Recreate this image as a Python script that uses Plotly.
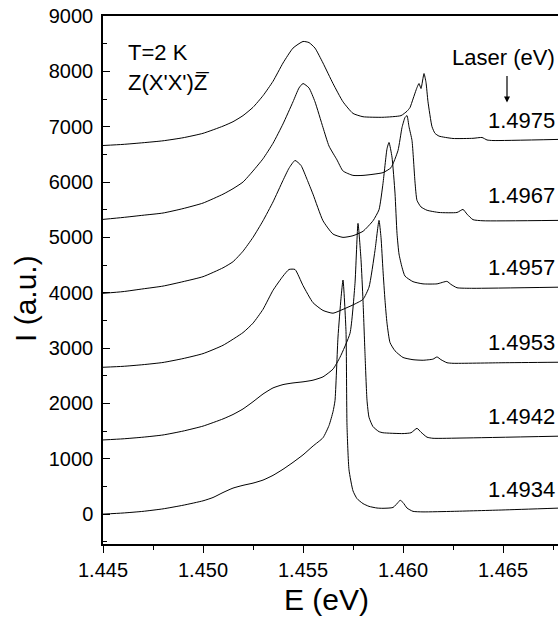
import plotly.graph_objects as go

# ---- data (E in eV, I in a.u., vertical offsets included as plotted) ----
laser_labels = ["1.4975", "1.4967", "1.4957", "1.4953", "1.4942", "1.4934"]

e_1934 = [1.445, 1.446, 1.447, 1.448, 1.449, 1.450, 1.4505, 1.451, 1.4515, 1.452, 1.4525, 1.453,
          1.4535, 1.454, 1.4545, 1.455, 1.4555, 1.456, 1.4563, 1.4565, 1.4566, 1.45675, 1.4569, 1.457,
          1.45715, 1.4572, 1.4573, 1.4575, 1.4577, 1.458, 1.4583, 1.4587, 1.459, 1.4595, 1.4598, 1.45985,
          1.46, 1.4602, 1.4605, 1.461, 1.4625, 1.465, 1.46775]
i_1934 = [0, 20, 50, 95, 160, 240, 300, 390, 470, 520, 560, 615,
          700, 810, 935, 1070, 1230, 1380, 1600, 1850, 2050, 3200, 3900, 4230,
          3300, 1600, 800, 420, 280, 190, 140, 110, 105, 120, 230, 253,
          210, 110, 50, 40, 50, 75, 108]

e_1942 = [1.445, 1.446, 1.447, 1.448, 1.449, 1.450, 1.451, 1.4515, 1.452, 1.4525, 1.453, 1.4535,
          1.454, 1.4545, 1.455, 1.4555, 1.456, 1.4565, 1.45685, 1.45735, 1.4576, 1.45775, 1.4579, 1.458,
          1.4581, 1.4582, 1.4583, 1.4585, 1.4588, 1.459, 1.460, 1.4604, 1.4607, 1.4609, 1.4612, 1.4615,
          1.463, 1.46775]
i_1942 = [1340, 1360, 1390, 1430, 1500, 1590, 1720, 1800, 1900, 2030, 2170, 2280,
          2340, 2370, 2390, 2420, 2480, 2620, 2834, 3267, 4170, 5253, 4600, 3863,
          2900, 2058, 1750, 1580, 1490, 1470, 1455, 1470, 1550, 1480, 1390, 1370,
          1375, 1408]

e_1953 = [1.445, 1.446, 1.447, 1.448, 1.449, 1.450, 1.451, 1.452, 1.4525, 1.453, 1.4535, 1.454,
          1.4543, 1.4546, 1.455, 1.4555, 1.456, 1.4565, 1.457, 1.4575, 1.458, 1.4583, 1.4586, 1.4588,
          1.4589, 1.459, 1.4591, 1.4592, 1.45935, 1.4596, 1.460, 1.4605, 1.461, 1.4615, 1.4617, 1.4619,
          1.4622, 1.4625, 1.465, 1.46775]
i_1953 = [2653, 2670, 2700, 2740, 2810, 2900, 3050, 3280, 3450, 3700, 4043, 4300,
          4420, 4420, 4130, 3820, 3680, 3630, 3700, 3780, 3880, 4100, 4765, 5307,
          5000, 4400, 3863, 3450, 3100, 2950, 2830, 2790, 2780, 2800, 2840, 2790,
          2735, 2725, 2735, 2744]

e_1957 = [1.445, 1.446, 1.447, 1.448, 1.449, 1.450, 1.451, 1.4515, 1.452, 1.4525, 1.453, 1.4535,
          1.454, 1.4543, 1.4546, 1.4549, 1.4552, 1.4555, 1.456, 1.4565, 1.457, 1.4575, 1.458, 1.4585,
          1.4588, 1.459, 1.4592, 1.4593, 1.45945, 1.4596, 1.4597, 1.4598, 1.45995, 1.4601, 1.4605, 1.461,
          1.4617, 1.4622, 1.4624, 1.4627, 1.4635, 1.46775]
i_1957 = [3989, 4020, 4070, 4120, 4200, 4290, 4450, 4560, 4750, 5000, 5300, 5640,
          6030, 6250, 6390, 6300, 6050, 5780, 5300, 5060, 5000, 5030, 5110, 5300,
          5500, 5975, 6600, 6715, 6450, 5800, 5072, 4700, 4460, 4300, 4200, 4160,
          4160, 4205, 4150, 4090, 4080, 4100]

e_1967 = [1.445, 1.446, 1.447, 1.448, 1.449, 1.450, 1.451, 1.4515, 1.452, 1.4525, 1.453, 1.4535,
          1.454, 1.4545, 1.4548, 1.455, 1.4553, 1.4556, 1.456, 1.4563, 1.4567, 1.457, 1.4575, 1.458,
          1.4585, 1.459, 1.4594, 1.45975, 1.45995, 1.4601, 1.4602, 1.4603, 1.46045, 1.4606, 1.4607, 1.4609,
          1.4612, 1.4618, 1.4627, 1.463, 1.4632, 1.4635, 1.464, 1.46775]
i_1967 = [5325, 5360, 5400, 5440, 5520, 5620, 5780, 5880, 6000, 6200, 6420, 6700,
          7050, 7450, 7700, 7780, 7700, 7450, 6985, 6650, 6400, 6200, 6120, 6120,
          6140, 6170, 6260, 6570, 6985, 7166, 7200, 7000, 6750, 6000, 5668, 5550,
          5490, 5450, 5450, 5505, 5420, 5320, 5300, 5307]

e_1975 = [1.445, 1.446, 1.447, 1.448, 1.449, 1.450, 1.451, 1.4515, 1.452, 1.4525, 1.453, 1.4535,
          1.454, 1.4545, 1.455, 1.4553, 1.4556, 1.456, 1.4565, 1.457, 1.4575, 1.458, 1.459, 1.4599,
          1.4602, 1.46035, 1.4605, 1.4607, 1.4608, 1.4609, 1.46105, 1.46115, 1.46125, 1.46145, 1.4616, 1.4618,
          1.4625, 1.4635, 1.46395, 1.4642, 1.4645, 1.46775]
i_1975 = [6660, 6680, 6710, 6745, 6800, 6880, 7010, 7090, 7200, 7350, 7560, 7820,
          8150, 8420, 8540, 8520, 8420, 8150, 7780, 7450, 7240, 7180, 7170, 7200,
          7280, 7346, 7500, 7707, 7780, 7690, 7960, 7800, 7450, 7000, 6880, 6830,
          6787, 6790, 6805, 6760, 6750, 6770]

label_y = [7112, 5758, 4459, 3105, 1769, 451]

x_ticks = [1.445, 1.450, 1.455, 1.460, 1.465]
y_ticks = [0, 1000, 2000, 3000, 4000, 5000, 6000, 7000, 8000, 9000]

FONT = "Arial, Liberation Sans, sans-serif"

fig = go.Figure()
for ex, iy in [(e_1934, i_1934), (e_1942, i_1942), (e_1953, i_1953),
               (e_1957, i_1957), (e_1967, i_1967), (e_1975, i_1975)]:
    fig.add_trace(go.Scatter(x=ex, y=iy, mode="lines",
                             line=dict(color="black", width=1, shape="spline", smoothing=0.5),
                             showlegend=False, hoverinfo="skip"))

fig.update_layout(
    width=558, height=624,
    margin=dict(l=103, r=0, t=16, b=80),
    paper_bgcolor="white", plot_bgcolor="white",
    font=dict(family=FONT, color="black"),
    xaxis=dict(range=[1.445, 1.46775], tickvals=x_ticks, ticktext=[f"{v:.3f}" for v in x_ticks],
               ticks="outside", ticklen=7, tickwidth=1.2, tickcolor="black",
               minor=dict(dtick=0.0025, tick0=1.445, ticks="outside", ticklen=4, tickcolor="black", tickwidth=1.2),
               showline=True, linecolor="black", linewidth=1.5, mirror=True,
               showgrid=False, zeroline=False, tickfont=dict(size=20, family=FONT)),
    yaxis=dict(range=[-540, 9000], tickvals=y_ticks,
               ticks="inside", ticklen=7, tickwidth=1.2, tickcolor="black",
               minor=dict(dtick=500, tick0=0, ticks="inside", ticklen=4, tickcolor="black", tickwidth=1.2),
               showline=True, linecolor="black", linewidth=1.5, mirror=False,
               showgrid=False, zeroline=False, tickfont=dict(size=20, family=FONT),
               ticklabelstandoff=4),
)

anns = []
for txt, yv in zip(laser_labels, label_y):
    anns.append(dict(text=txt, xref="paper", yref="y", x=1.0, xshift=-1, y=yv, xanchor="right",
                     yanchor="middle", showarrow=False, font=dict(size=22, family=FONT)))
anns.append(dict(text="Laser (eV)", xref="paper", yref="y", x=1.0, xshift=-1, y=(514 - 57) * 18.05,
                 xanchor="right", yanchor="middle", showarrow=False, font=dict(size=22, family=FONT)))
anns.append(dict(text="", x=1.4652, y=7437, xref="x", yref="y", showarrow=True,
                 ax=0, ay=-28, arrowhead=2, arrowsize=1, arrowwidth=1.2, arrowcolor="black"))
anns.append(dict(text="T=2 K", xref="x", yref="y", x=1.44615, y=8339, xanchor="left", yanchor="middle",
                 showarrow=False, font=dict(size=22, family=FONT)))
anns.append(dict(text="Z(X'X')Z\u0305", xref="x", yref="y", x=1.44615, y=7797, xanchor="left",
                 yanchor="middle", showarrow=False, font=dict(size=22, family=FONT)))
anns.append(dict(text="I (a.u.)", xref="paper", yref="paper", x=-0.1714, y=0.464, xanchor="center",
                 yanchor="middle", textangle=-90, showarrow=False, font=dict(size=30, family=FONT)))
anns.append(dict(text="E (eV)", xref="paper", yref="paper", x=0.4923, y=-0.105, xanchor="center",
                 yanchor="middle", showarrow=False, font=dict(size=30, family=FONT)))
fig.update_layout(annotations=anns)

fig.write_html("out.html")
